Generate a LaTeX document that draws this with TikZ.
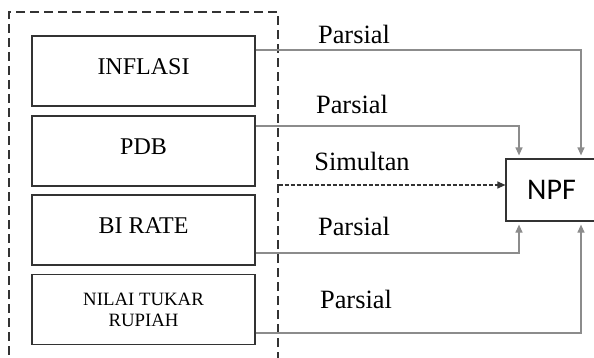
\documentclass[tikz,border=0pt]{standalone}
\usepackage{fontspec}
\setmainfont{Liberation Serif}
\newfontfamily\npffont{Carlito}
\usetikzlibrary{arrows.meta}
\definecolor{linegray}{RGB}{140,140,140}

\begin{document}
\begin{tikzpicture}[x=0.5pt,y=-0.5pt,
  varbox/.style={draw=black!80,line width=0.6pt,minimum width=111.5pt,minimum height=35pt,inner sep=0pt,text depth=4pt,font=\fontsize{12}{14}\selectfont},
  link/.style={draw=linegray,line width=0.6pt,-{Triangle[length=4pt,width=3.5pt]},shorten >=1.5pt},
  lbl/.style={anchor=base,inner sep=0pt,font=\fontsize{13.2}{15}\selectfont}]
  \useasboundingbox (0,0) rectangle (594,358);
  \clip (0,0) rectangle (594,358);
  \node[draw=black!80,line width=0.6pt,dash pattern=on 4.5pt off 2.5pt,minimum width=134.5pt,minimum height=180pt] (frame) at (143.5,192) {};
  \node[varbox] (inflasi) at (143.5,71) {INFLASI};
  \node[varbox] (pdb) at (143.5,151) {PDB};
  \node[varbox] (birate) at (143.5,230) {BI RATE};
  \node[varbox,text depth=,align=center,font=\fontsize{9.4}{10.5}\selectfont] (kurs) at (143.5,309.5) {NILAI TUKAR\\RUPIAH};
  \node[draw=black!80,line width=0.6pt,minimum width=45.5pt,minimum height=31pt,inner sep=0pt,font=\npffont\fontsize{15}{18}\selectfont] (npf) at (551.5,190) {NPF};
  \draw[link] ([yshift=10.5pt]inflasi.east) -| ([xshift=14.75pt]npf.north);
  \draw[link] ([yshift=12.5pt]pdb.east) -| ([xshift=-16.25pt]npf.north);
  \draw[link] ([yshift=-11.5pt]birate.east) -| ([xshift=-16.25pt]npf.south);
  \draw[link] ([yshift=-11.75pt]kurs.east) -| ([xshift=14.75pt]npf.south);
  \draw[black!80,line width=0.6pt,dash pattern=on 2pt off 1pt,-{Triangle[length=4pt,width=3.5pt]}] ([yshift=3.5pt]frame.east) -- ([yshift=2.5pt]npf.west);
  \node[lbl] (p1) at (354,44) {Parsial};
  \node[lbl] (p2) at (352,113) {Parsial};
  \node[lbl] (sim) at (362,170) {Simultan};
  \node[lbl] (p3) at (354,235) {Parsial};
  \node[lbl] (p4) at (356,308) {Parsial};
\end{tikzpicture}
\end{document}
